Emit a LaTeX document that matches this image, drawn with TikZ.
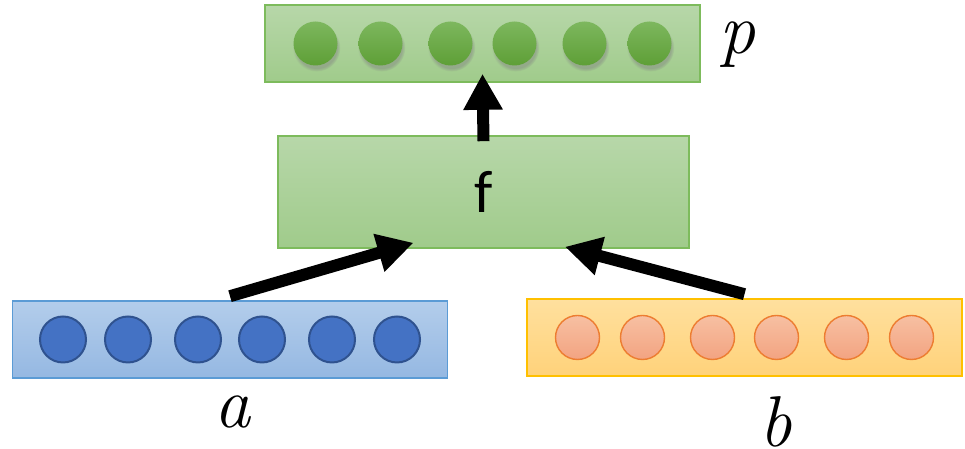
\documentclass[tikz,border=0pt]{standalone}
\usepackage{fontspec}
\newfontfamily\calibri{Carlito}
\usetikzlibrary{arrows.meta,shadows,fadings}

\definecolor{pboxtop}{HTML}{B7D7A9}
\definecolor{pboxbot}{HTML}{A0CB8B}
\definecolor{gline}{HTML}{7DBB5C}
\definecolor{gtop}{HTML}{7DB75E}
\definecolor{gbot}{HTML}{5E9F36}
\definecolor{bboxtop}{HTML}{B3CDEB}
\definecolor{bboxbot}{HTML}{95B8E2}
\definecolor{bline}{HTML}{5B9BD5}
\definecolor{bfill}{HTML}{4472C4}
\definecolor{bdraw}{HTML}{2F528F}
\definecolor{oboxtop}{HTML}{FFE09E}
\definecolor{oboxbot}{HTML}{FFD27A}
\definecolor{oline}{HTML}{FFC000}
\definecolor{otop}{HTML}{F7C0A2}
\definecolor{obot}{HTML}{F3A381}
\definecolor{odraw}{HTML}{ED7D31}

\begin{document}
\begin{tikzpicture}[x=0.5pt,y=0.5pt,
  vecbox/.style={rectangle, minimum width=217.5pt, minimum height=38.5pt, line width=0.8pt, inner sep=0pt},
  unit/.style={circle, minimum size=22pt, inner sep=0pt},
  bigarrow/.style={line width=6pt, -{Triangle[length=18pt,width=18.5pt]}},
  lbl/.style={font=\fontsize{36}{36}\selectfont\itshape, inner sep=5pt}]
  \useasboundingbox (0,0) rectangle (965,449);
  % vectors and the composition box
  \node[vecbox, draw=gline, top color=pboxtop, bottom color=pboxbot] (vp) at (482.5,405.5) {};
  \node[vecbox, draw=gline, top color=pboxtop, bottom color=pboxbot, minimum width=205.5pt, minimum height=56pt, font=\calibri\fontsize{30}{30}\selectfont] (vf) at (483.5,257) {f};
  \node[vecbox, draw=bline, top color=bboxtop, bottom color=bboxbot] (va) at (230,109.5) {};
  \node[vecbox, draw=oline, top color=oboxtop, bottom color=oboxbot] (vb) at (744.5,111.5) {};
  % units of each vector
  \foreach \dx [count=\i] in {-167,-102,-32,32,102,167} {
    \node[unit, top color=gtop, bottom color=gbot, circular drop shadow={shadow xshift=0.5pt, shadow yshift=-2pt, shadow scale=1.08, opacity=0.45}] (p\i) at ([xshift=\dx*0.5pt]vp.center) {};
    \node[unit, draw=bdraw, line width=1pt, fill=bfill, minimum size=23pt] (a\i) at ([xshift=\dx*0.5pt]va.center) {};
    \node[unit, draw=odraw, line width=0.7pt, top color=otop, bottom color=obot] (b\i) at ([xshift=\dx*0.5pt]vb.center) {};
  }
  % arrows
  \draw[bigarrow] ([yshift=-3pt]vf.north) -- ([yshift=4.5pt]vp.south);
  \draw[bigarrow] ([yshift=2pt]va.north) -- ([xshift=-35pt,yshift=3pt]vf.south);
  \draw[bigarrow] ([yshift=2pt]vb.north) -- ([xshift=40.75pt,yshift=1pt]vf.south);
  % labels
  \node[lbl] (lp) at (737,404) {p};
  \node[lbl] (la) at (232,37) {a};
  \node[lbl] (lb) at (776,27) {b};
\end{tikzpicture}
\end{document}
